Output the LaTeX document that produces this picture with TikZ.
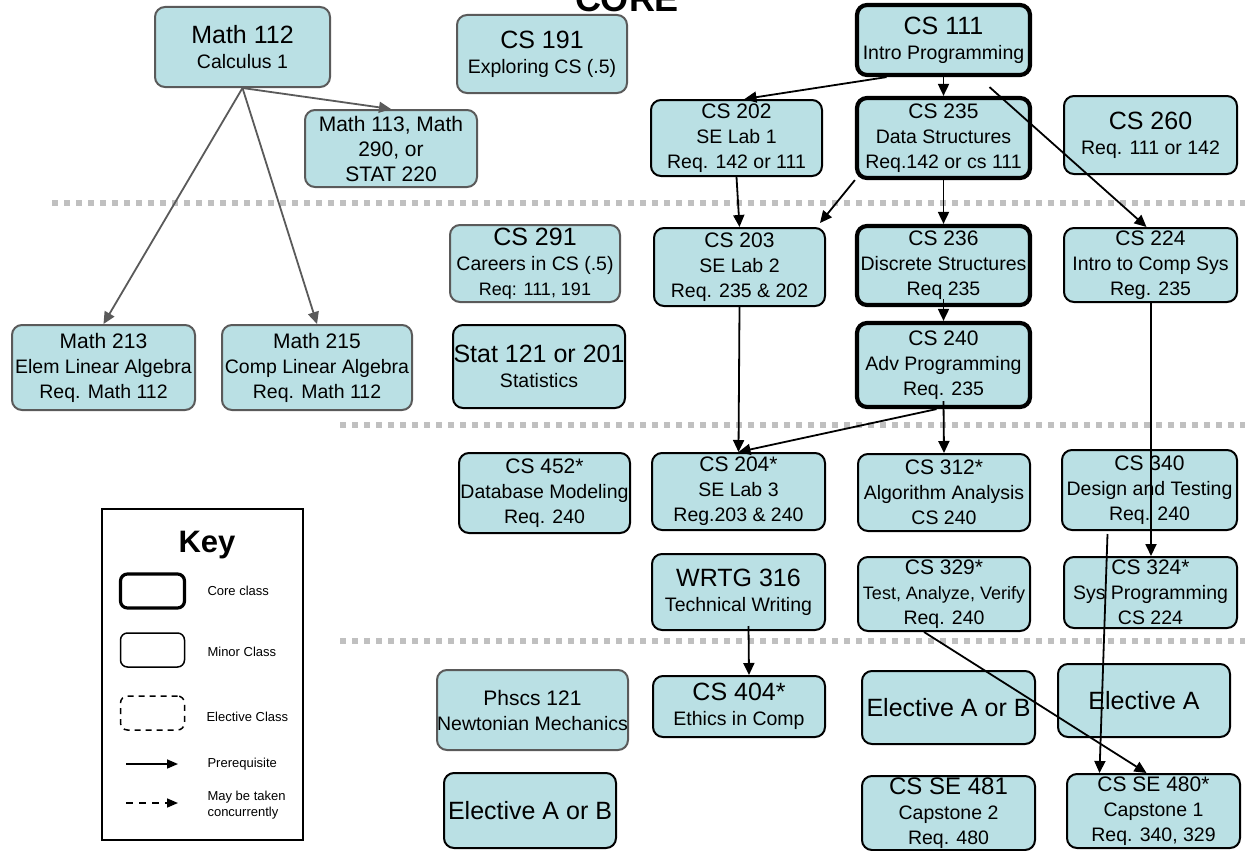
\documentclass[tikz,border=0pt]{standalone}
\usepackage{fontspec}
\setmainfont{Liberation Sans}
\usetikzlibrary{arrows.meta}
\definecolor{boxfill}{RGB}{186,224,228}
\definecolor{minorgray}{RGB}{90,90,90}
\definecolor{termgray}{RGB}{192,192,192}
\newcommand{\cnum}{\fontsize{21}{25}\selectfont}
\newcommand{\cbig}{\fontsize{25}{27}\selectfont}
\newcommand{\cdesc}{\fontsize{19.5}{25}\selectfont}
\newcommand{\cless}{\fontsize{18}{23}\selectfont}
\newcommand{\ckey}{\fontsize{13}{16}\selectfont}

\begin{document}
\begin{tikzpicture}[x=1pt, y=-1pt,
    course/.style={rectangle, rounded corners=10pt, fill=boxfill, draw=black, line width=2pt, align=center, inner sep=0pt, font=\cdesc},
    core/.style={course, line width=4.2pt},
    minor/.style={course, draw=minorgray},
    keybox/.style={rectangle, rounded corners=7pt, draw=black, line width=1.5pt, minimum width=64pt, minimum height=34pt},
    keytext/.style={anchor=west, align=left, font=\ckey},
    prereq/.style={line width=1.8pt, -{Triangle[length=12pt,width=11pt]}},
    mathreq/.style={prereq, draw=minorgray},
    term/.style={line width=6pt, draw=termgray, dash pattern=on 6pt off 6pt}]
    \fill[white] (0,0) rectangle (1245,851);
    \useasboundingbox (0,0) rectangle (1245,851);

    % the term separators
    \draw[term] (52,203) -- (1245,203);
    \draw[term] (340,425) -- (1245,425);
    \draw[term] (340,641) -- (1245,641);

    % the title (cut at the top)
    \node[font=\bfseries\fontsize{36}{40}\selectfont, anchor=base] (coretitle) at (627,12) {CORE};

    % first row of classes
    \node[minor, minimum width=175pt, minimum height=80pt] (math112) at (242.5,47) {\cbig Math 112\\ Calculus 1};
    \node[minor, minimum width=170pt, minimum height=78pt] (cs191) at (542,54) {\cbig CS 191\\ Exploring CS (.5)};
    \node[core, minimum width=173pt, minimum height=70pt] (cs111) at (943.5,40) {\cbig CS 111\\ Intro Programming};
    \node[minor, minimum width=172pt, minimum height=77pt, font=\cnum] (math113) at (391,148.5) {Math 113, Math\\ 290, or\\ STAT 220};
    \node[course, minimum width=171pt, minimum height=76pt] (cs202) at (736.5,138) {\cnum CS 202\\ SE Lab 1\\ Req. 142 or 111};
    \node[core, minimum width=173pt, minimum height=80pt] (cs235) at (943.5,138) {\cnum CS 235\\ Data Structures\\ Req.142 or cs 111};
    \node[course, minimum width=173pt, minimum height=78pt] (cs260) at (1150.5,135) {\cbig CS 260\\ Req. 111 or 142};

    % second row of classes
    \node[minor, minimum width=170pt, minimum height=77pt] (cs291) at (535,263.5) {\cbig CS 291\\ Careers in CS (.5)\\ \cless Req: 111, 191};
    \node[course, minimum width=171pt, minimum height=78pt] (cs203) at (739.5,267) {\cnum CS 203\\ SE Lab 2\\ Req. 235 \& 202};
    \node[core, minimum width=173pt, minimum height=79pt] (cs236) at (943.5,265.5) {\cnum CS 236\\ Discrete Structures\\ Req 235};
    \node[course, minimum width=173pt, minimum height=74pt] (cs224) at (1150.5,265) {\cnum CS 224\\ Intro to Comp Sys\\ Reg. 235};
    \node[minor, minimum width=183pt, minimum height=85pt] (math213) at (103.5,367.5) {\cnum Math 213\\ Elem Linear Algebra\\ Req. Math 112};
    \node[minor, minimum width=190pt, minimum height=85pt] (math215) at (317,367.5) {\cnum Math 215\\ Comp Linear Algebra\\ Req. Math 112};
    \node[course, minimum width=172pt, minimum height=83pt] (stat121) at (539,366.5) {\cbig Stat 121 or 201\\ Statistics};
    \node[core, minimum width=173pt, minimum height=84pt] (cs240) at (943.5,365) {\cnum CS 240\\ Adv Programming\\ Req. 235};

    % third row of classes
    \node[course, minimum width=171pt, minimum height=80pt] (cs452) at (544.5,493) {\cnum CS 452*\\ Database Modeling\\ Req. 240};
    \node[course, minimum width=173pt, minimum height=77pt] (cs204) at (738.5,491.5) {\cnum CS 204*\\ SE Lab 3\\ Reg.203 \& 240};
    \node[course, minimum width=172pt, minimum height=77pt] (cs312) at (944,492.5) {\cnum CS 312*\\ Algorithm Analysis\\ CS 240};
    \node[course, minimum width=175pt, minimum height=80pt] (cs340) at (1149.5,490) {\cnum CS 340\\ Design and Testing\\ Req. 240};
    \node[course, minimum width=173pt, minimum height=76pt] (wrtg316) at (738.5,592) {\cbig WRTG 316\\ Technical Writing};
    \node[course, minimum width=172pt, minimum height=74pt] (cs329) at (944,594) {\cnum CS 329*\\ \cless Test, Analyze, Verify\\ Req. 240};
    \node[course, minimum width=173pt, minimum height=71pt] (cs324) at (1150.5,592.5) {\cnum CS 324*\\ Sys Programming\\ CS 224};

    % fourth row of classes
    \node[minor, minimum width=191pt, minimum height=80pt] (phscs121) at (532.5,710) {\cnum Phscs 121\\ Newtonian Mechanics};
    \node[course, minimum width=172pt, minimum height=61pt] (cs404) at (739,706.5) {\cbig CS 404*\\ Ethics in Comp};
    \node[course, minimum width=173pt, minimum height=73pt] (electab) at (948.5,707.5) {\cbig Elective A or B};
    \node[course, minimum width=172pt, minimum height=73pt] (electa) at (1144,700.5) {\cbig Elective A};
    \node[course, minimum width=172pt, minimum height=75pt] (electlow) at (530,810.5) {\cbig Elective A or B};
    \node[course, minimum width=173pt, minimum height=74pt] (cs481) at (948.5,813) {\fontsize{24}{26}\selectfont CS SE 481\\ Capstone 2\\ Req. 480};
    \node[course, minimum width=173pt, minimum height=74pt] (cs480) at (1153.5,811) {\cnum CS SE 480*\\ Capstone 1\\ Req. 340, 329};

    % the key
    \draw[line width=2pt] (102,509) rectangle (303,840);
    \node[font=\bfseries\fontsize{31}{34}\selectfont] (keytitle) at (207,545) {Key};
    \node[keybox, line width=3.2pt] (keycore) at (152.5,591) {};
    \node[keybox] (keyminor) at (152.5,650) {};
    \node[keybox, dash pattern=on 6pt off 5pt] (keyelect) at (152.5,713) {};
    \node[keytext] (keycoretxt) at (204,591) {Core class};
    \node[keytext] (keyminortxt) at (204,652) {Minor Class};
    \node[keytext] (keyelecttxt) at (203,717) {Elective Class};
    \node[keytext] (keyreqtxt) at (204,764) {Prerequisite};
    \node[keytext] (keyconctxt) at (204,805) {May be taken\\concurrently};
    \coordinate (keyreqa) at (126,764);
    \coordinate (keyreqb) at (178,764);
    \coordinate (keyconca) at (126,803);
    \coordinate (keyconcb) at (178,803);
    \draw[line width=1.6pt, -{Triangle[length=11pt,width=9pt]}] (keyreqa) -- (keyreqb);
    \draw[line width=1.6pt, dash pattern=on 7pt off 6pt, -{Triangle[length=11pt,width=9pt]}] (keyconca) -- (keyconcb);

    % the math prerequisites
    \draw[mathreq] (math112.south) -- (math213.north);
    \draw[mathreq] (math112.south) -- (math215.north);
    \draw[mathreq] (math112.south) -- (math113.north);

    % the cs prerequisites
    \draw[prereq] ([xshift=-57pt]cs111.south) -- ([xshift=8pt]cs202.north);
    \draw[prereq] (cs111.south) -- (cs235.north);
    \draw[prereq] ([xshift=46pt,yshift=-10pt]cs111.south) -- ([xshift=-4pt]cs224.north);
    \draw[prereq] (cs202.south) -- (cs203.north);
    \draw[prereq] (cs235.south west) -- ([xshift=-6pt,yshift=4pt]cs203.north east);
    \draw[prereq] (cs235.south) -- (cs236.north);
    \draw[prereq] ([yshift=8pt]cs236.south) -- (cs240.north);
    \draw[prereq] (cs203.south) -- (cs204.north);
    \draw[prereq] ([xshift=-7pt]cs240.south) -- (cs204.north);
    \draw[prereq] ([yshift=8pt]cs240.south) -- (cs312.north);
    \draw[prereq] ([xshift=0.5pt]cs224.south) -- ([xshift=0.5pt]cs324.north);
    \draw[prereq] ([xshift=-42pt,yshift=-3pt]cs340.south) -- ([xshift=-54pt]cs480.north);
    \draw[prereq] ([xshift=-20pt]cs329.south) -- ([xshift=-7pt]cs480.north);
    \draw[prereq] ([xshift=10pt,yshift=5pt]wrtg316.south) -- ([xshift=10pt]cs404.north);
\end{tikzpicture}
\end{document}
